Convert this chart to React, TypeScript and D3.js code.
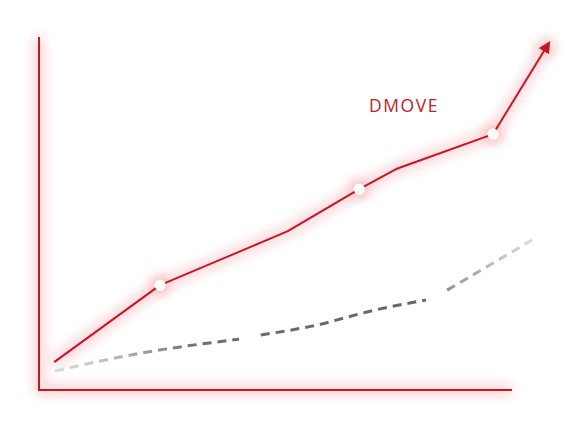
import * as React from "react";
import * as d3 from "d3";

// main series (red), x / y in percent of the axes
const redX = [3.2, 25.6, 52.6, 67.7, 75.5, 96.0, 107.8];
const redY = [7.9, 29.7, 45.0, 56.9, 62.6, 72.5, 98.3];
// which points get a white marker
const dotIdx = [1, 3, 5];

// secondary series (grey dashed), null = break
const greyX = [3.4, 21.8, 42.3, null, 46.9, 57.7, 71.2, 81.8, null, 86.3, 105.3];
const greyY = [5.4, 10.5, 14.4, null, 15.6, 18.1, 22.7, 25.5, null, 28.3, 43.3];

const label = "DMOVE";

const W = 583;
const H = 428;
const RED = "#c9151f";

export default function App() {
  const x = d3.scaleLinear().domain([0, 100]).range([39, 512]);
  const y = d3.scaleLinear().domain([0, 100]).range([390, 37]);

  const red = redX.map((v, i) => ({ x: v, y: redY[i] }));
  const grey = greyX.map((v, i) => ({ x: v, y: greyY[i] }));

  const redLine = d3
    .line<{ x: number; y: number }>()
    .x(d => x(d.x))
    .y(d => y(d.y));

  const greyLine = d3
    .line<any>()
    .defined(d => d.x !== null)
    .x(d => x(d.x))
    .y(d => y(d.y))
    .curve(d3.curveMonotoneX);

  const axisPath = `M${x(0)},${y(100)}L${x(0)},${y(0)}L${x(100)},${y(0)}`;

  return (
    <svg width={W} height={H} style={{ position: "absolute", left: 0, top: 0 }}>
      <defs>
        <filter id="glow" x="-20%" y="-20%" width="140%" height="140%">
          <feGaussianBlur in="SourceAlpha" stdDeviation="7" result="blur" />
          <feFlood floodColor="#e8303c" floodOpacity="0.5" />
          <feComposite in2="blur" operator="in" result="halo" />
          <feMerge>
            <feMergeNode in="halo" />
            <feMergeNode in="halo" />
            <feMergeNode in="SourceGraphic" />
          </feMerge>
        </filter>
        <linearGradient id="greyGrad" gradientUnits="userSpaceOnUse" x1={x(3)} x2={x(106)} y1={0} y2={0}>
          <stop offset="0" stopColor="#e0e0e0" />
          <stop offset="0.12" stopColor="#bbbbbb" />
          <stop offset="0.3" stopColor="#6e6e6e" />
          <stop offset="0.78" stopColor="#666666" />
          <stop offset="0.82" stopColor="#9a9a9a" />
          <stop offset="1" stopColor="#e4e4e4" />
        </linearGradient>
        <marker
          id="arrow"
          viewBox="0 0 10 10"
          refX="8"
          refY="5"
          markerWidth="6"
          markerHeight="6"
          orient="auto"
        >
          <path d="M0,0L10,5L0,10Z" fill={RED} />
        </marker>
      </defs>

      <path
        d={greyLine(grey) as string}
        fill="none"
        stroke="url(#greyGrad)"
        strokeWidth={3}
        strokeDasharray="9 6"
      />

      <g filter="url(#glow)">
        <path d={axisPath} fill="none" stroke={RED} strokeWidth={2} />
        <path
          d={redLine(red) as string}
          fill="none"
          stroke={RED}
          strokeWidth={2}
          strokeLinejoin="round"
          markerEnd="url(#arrow)"
        />
        {dotIdx.map(i => (
          <circle key={i} cx={x(redX[i])} cy={y(redY[i])} r={5.5} fill="#fff" />
        ))}
      </g>

      <text
        x={404}
        y={112}
        textAnchor="middle"
        fill="#c3202a"
        fontFamily="'Open Sans', sans-serif"
        fontWeight={400}
        fontSize={17.5}
        letterSpacing={1.6}
      >
        {label}
      </text>
    </svg>
  );
}
